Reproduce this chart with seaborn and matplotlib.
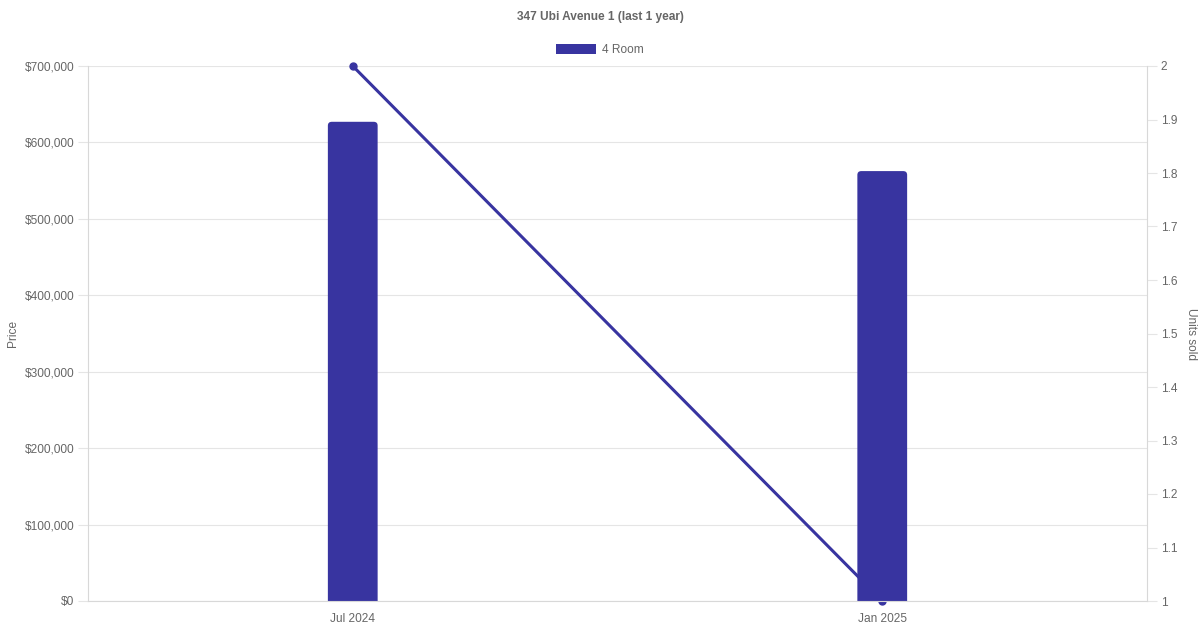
import matplotlib
matplotlib.use("Agg")
import matplotlib.pyplot as plt
import seaborn as sb
import pandas as pd
from matplotlib.patches import FancyBboxPatch, Rectangle
from matplotlib.ticker import FuncFormatter, MultipleLocator

# Data
months = ["Jul 2024", "Jan 2025"]
prices = [627000, 562500]
units_sold = [2, 1]
series_name = "4 Room"
title = "347 Ubi Avenue 1 (last 1 year)"

BAR_COLOR = "#3834A0"
GRID = "#e5e5e5"
TEXT = "#666666"

sb.set_theme(style="white")
matplotlib.rcParams['font.family'] = ['Liberation Sans', 'DejaVu Sans']
matplotlib.rcParams['font.size'] = 8.6
matplotlib.rcParams['text.color'] = TEXT
matplotlib.rcParams['axes.labelcolor'] = TEXT
matplotlib.rcParams['xtick.color'] = TEXT
matplotlib.rcParams['ytick.color'] = TEXT

fig = plt.figure(figsize=(12, 6.3), dpi=100)
rect = [88 / 1200, 1 - 601 / 630, (1147 - 88) / 1200, (601 - 66) / 630]

# background axes only for the horizontal grid (so it sits behind the line)
bg = fig.add_axes(rect, zorder=1)
bg.set_xlim(-0.5, 1.5)
bg.set_ylim(0, 700000)
bg.yaxis.set_major_locator(MultipleLocator(100000))
bg.grid(axis="y", color=GRID, lw=0.8)
bg.set_xticks([])
bg.tick_params(left=False, labelleft=False)
for s in bg.spines.values():
    s.set_visible(False)

ax = fig.add_axes(rect, zorder=3)
ax2 = ax.twinx()
ax2.set_zorder(2)
ax.patch.set_visible(False)
ax2.patch.set_visible(False)

df = pd.DataFrame({"Month": months, "Price": prices, "Units": units_sold})

# Bars (price) on left axis
sb.barplot(data=df, x="Month", y="Price", color=BAR_COLOR, width=0.094,
           saturation=1, ax=ax)

# rounded top corners: replace each bar by a rounded box whose bottom
# rounding falls below zero and gets clipped by the axes
for p in list(ax.patches):
    x0, y0 = p.get_x(), p.get_y()
    w, h = p.get_width(), p.get_height()
    p.set_visible(False)
    r = 0.0075
    ry = 5000
    ax.add_patch(FancyBboxPatch((x0 + r, y0), w - 2 * r, h - ry,
                                boxstyle=f"round,pad={r},rounding_size={r}",
                                mutation_aspect=ry / r,
                                facecolor=BAR_COLOR, edgecolor="none"))

# Line (units sold) on right axis, drawn behind the bars
ax2.plot(range(len(months)), units_sold, color=BAR_COLOR, lw=2.2,
         marker="o", markersize=5, clip_on=False)

ax.set_xlim(-0.5, 1.5)
ax.set_ylim(0, 700000)
ax.yaxis.set_major_locator(MultipleLocator(100000))
ax.yaxis.set_major_formatter(FuncFormatter(lambda v, _: f"${v:,.0f}"))

ax2.set_ylim(1, 2)
ax2.yaxis.set_major_locator(MultipleLocator(0.1))
ax2.yaxis.set_major_formatter(FuncFormatter(lambda v, _: f"{v:g}"))

for a in (ax, ax2):
    for s in a.spines.values():
        s.set_color("#d8d8d8")
        s.set_linewidth(0.8)
    a.spines["top"].set_visible(False)
    a.tick_params(length=7, width=0.8, color=GRID, labelsize=8.6, pad=3)

ax.spines["right"].set_visible(False)
ax2.spines["left"].set_visible(False)
ax2.spines["bottom"].set_visible(False)
ax.tick_params(axis="x", length=0, pad=9)

ax.set_xlabel("")
ax.set_ylabel("Price", fontsize=8.6, labelpad=4)
ax2.set_ylabel("Units sold", fontsize=8.6, rotation=270, labelpad=14)

fig.text(0.5, 1 - 17 / 630, title, ha="center", va="center",
         fontsize=8.6, fontweight="bold", color=TEXT)

handle = Rectangle((0, 0), 1, 1, facecolor=BAR_COLOR, edgecolor="none")
fig.legend([handle], [series_name], loc="center", bbox_to_anchor=(0.5, 1 - 50 / 630),
           frameon=False, handlelength=3.3, handleheight=1.0, handletextpad=0.5,
           fontsize=8.6)

fig.savefig("out.png", dpi=100)
